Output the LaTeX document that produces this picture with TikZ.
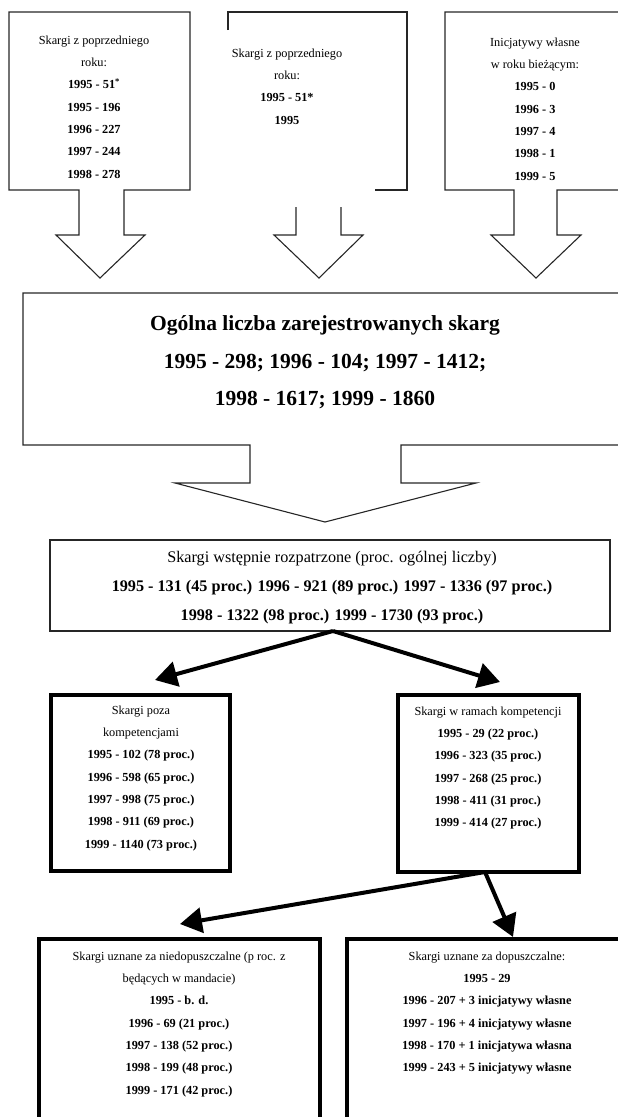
\documentclass[tikz,border=0pt]{standalone}
\usepackage{fontspec}
\setmainfont{Liberation Serif}
\usetikzlibrary{arrows.meta}
\begin{document}
\begin{tikzpicture}[x=1pt,y=-1pt,
  outline/.style={line width=1.1pt, draw=black!85, line join=miter},
  thickbox/.style={line width=4pt, draw=black},
  thickboxb/.style={line width=3.4pt, draw=black},
  bigarrow/.style={line width=4pt, draw=black, -{Triangle[length=22pt,width=25pt]}},
  smalltxt/.style={font=\fontsize{12.3}{22.3}\selectfont, align=center, inner sep=0pt, anchor=north},
  bigtxt/.style={font=\fontsize{21.5}{37.5}\selectfont\bfseries, align=center, inner sep=0pt, anchor=north},
  midtxt/.style={font=\fontsize{16.2}{29}\selectfont, align=center, inner sep=0pt, anchor=north}]
\useasboundingbox (0,0) rectangle (618,1117);
\clip (0,0) rectangle (618,1117);

% top left box with block arrow
\draw[outline] (9,12) -- (190,12) -- (190,190) -- (124,190) -- (124,235) -- (145,235)
  -- (100,278) -- (56,235) -- (79,235) -- (79,190) -- (9,190) -- cycle;
\node[smalltxt] (t1) at (94,35.5) {Skargi z poprzedniego\\roku:\\
  \textbf{1995 - 51\textsuperscript{*}}\\\textbf{1995 - 196}\\\textbf{1996 - 227}\\
  \textbf{1997 - 244}\\\textbf{1998 - 278}};

% top middle (broken) box and block arrow
\draw[outline] (228,30) -- (228,12) -- (407,12) -- (407,190) -- (375,190);
\draw[outline] (296,207) -- (296,235) -- (274,235) -- (319,278) -- (363,235) -- (341,235) -- (341,207);
\node[smalltxt] (t2) at (287,48.5) {Skargi z poprzedniego\\roku:\\
  \textbf{1995 - 51*}\\\textbf{1995}};

% top right box with block arrow
\draw[outline] (625,12) -- (445,12) -- (445,190) -- (514,190) -- (514,235) -- (491,235)
  -- (536,278) -- (581,235) -- (557,235) -- (557,190) -- (625,190);
\node[smalltxt] (t3) at (535,37.5) {Inicjatywy własne\\w roku bieżącym:\\
  \textbf{1995 - 0}\\\textbf{1996 - 3}\\\textbf{1997 - 4}\\\textbf{1998 - 1}\\\textbf{1999 - 5}};

% big box with block arrow
\draw[outline] (625,293) -- (23,293) -- (23,445) -- (250,445) -- (250,483) -- (175,483)
  -- (325,522) -- (476,483) -- (401,483) -- (401,445) -- (625,445);
\node[bigtxt] (total) at (325,315.5) {Ogólna liczba zarejestrowanych skarg\\
  1995 - 298; 1996 - 104; 1997 - 1412;\\1998 - 1617; 1999 - 1860};

% preliminary box
\node[draw=black!85, line width=1.1pt, minimum width=560pt, minimum height=91pt, inner sep=0pt]
  (prelim) at (330,585.5) {};
\node[midtxt] (prelimtxt) at (332,551.5) {Skargi wstępnie rozpatrzone (proc. ogólnej liczby)\\
  \textbf{1995 - 131 (45 proc.) 1996 - 921 (89 proc.) 1997 - 1336 (97 proc.)}\\
  \textbf{1998 - 1322 (98 proc.) 1999 - 1730 (93 proc.)}};

% middle boxes
\node[thickbox, minimum width=179pt, minimum height=176pt, inner sep=0pt] (outside) at (140.5,783) {};
\node[smalltxt] (outsidetxt) at (141,705.5) {Skargi poza\\kompetencjami\\
  \textbf{1995 - 102 (78 proc.)}\\\textbf{1996 - 598 (65 proc.)}\\\textbf{1997 - 998 (75 proc.)}\\
  \textbf{1998 - 911 (69 proc.)}\\\textbf{1999 - 1140 (73 proc.)}};
\node[thickbox, minimum width=181pt, minimum height=177pt, inner sep=0pt] (inside) at (488.5,783.5) {};
\node[smalltxt] (insidetxt) at (488,706.5) {Skargi w ramach kompetencji\\
  \textbf{1995 - 29 (22 proc.)}\\\textbf{1996 - 323 (35 proc.)}\\\textbf{1997 - 268 (25 proc.)}\\
  \textbf{1998 - 411 (31 proc.)}\\\textbf{1999 - 414 (27 proc.)}};

% bottom boxes
\draw[thickboxb] (39,1119) -- (39,939) -- (320,939) -- (320,1119) -- cycle;
\node[smalltxt] (inadm) at (179,951.5) {Skargi uznane za niedopuszczalne (p roc. z\\
  będących w mandacie)\\\textbf{1995 - b. d.}\\\textbf{1996 - 69 (21 proc.)}\\
  \textbf{1997 - 138 (52 proc.)}\\\textbf{1998 - 199 (48 proc.)}\\\textbf{1999 - 171 (42 proc.)}};
\draw[thickboxb] (347,1125) -- (347,939) -- (625,939);
\node[smalltxt] (adm) at (487,951.5) {Skargi uznane za dopuszczalne:\\\textbf{1995 - 29}\\
  \textbf{1996 - 207 + 3 inicjatywy własne}\\\textbf{1997 - 196 + 4 inicjatywy własne}\\
  \textbf{1998 - 170 + 1 inicjatywa własna}\\\textbf{1999 - 243 + 5 inicjatywy własne}};

% arrows
\coordinate (split) at (333,631);
\coordinate (tipL) at (155,680);
\coordinate (tipR) at (500,682);
\draw[bigarrow] (split) -- (tipL);
\draw[bigarrow] (split) -- (tipR);
\coordinate (split2) at (485,872);
\coordinate (tipBL) at (180,924);
\coordinate (tipBR) at (513,937);
\draw[bigarrow] (split2) -- (tipBL);
\draw[bigarrow] (split2) -- (tipBR);
\end{tikzpicture}
\end{document}
